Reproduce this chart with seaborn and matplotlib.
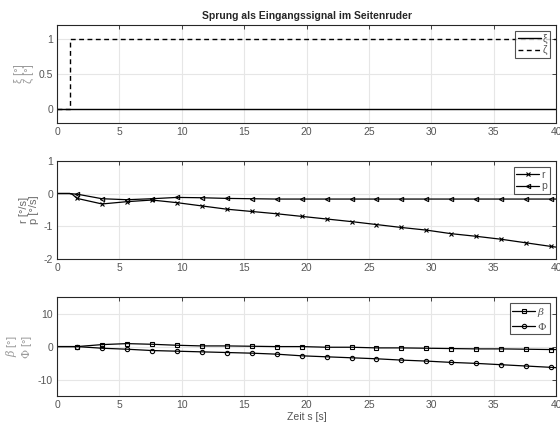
import matplotlib
matplotlib.use("Agg")
import matplotlib.pyplot as plt
from matplotlib.ticker import FormatStrFormatter
import seaborn as sns
import pandas as pd

# Rudder step input
t_in = [0.0, 1.0, 1.0, 40.0]
xi = [0.0, 0.0, 0.0, 0.0]
zeta = [0.0, 0.0, 1.0, 1.0]

# Response samples (time in s)
t = [0.0, 1.0, 1.2, 1.6, 3.6, 5.6, 7.6, 9.6, 11.6, 13.6, 15.6, 17.6, 19.6,
     21.6, 23.6, 25.6, 27.6, 29.6, 31.6, 33.6, 35.6, 37.6, 39.6, 40.0]
r = [0.0, 0.0, -0.02, -0.15, -0.32, -0.25, -0.20, -0.28, -0.38, -0.48, -0.55, -0.62,
     -0.70, -0.78, -0.86, -0.95, -1.04, -1.12, -1.23, -1.31, -1.40, -1.51, -1.62, -1.64]
p = [0.0, 0.0, -0.01, -0.02, -0.16, -0.19, -0.16, -0.12, -0.13, -0.15, -0.16, -0.17,
     -0.17, -0.17, -0.17, -0.17, -0.17, -0.17, -0.17, -0.17, -0.17, -0.17, -0.17, -0.17]
beta = [0.0, 0.0, 0.0, 0.0, 0.6, 0.9, 0.7, 0.4, 0.2, 0.2, 0.1, 0.0,
        0.0, -0.2, -0.2, -0.4, -0.4, -0.5, -0.6, -0.7, -0.7, -0.8, -0.9, -0.9]
phi = [0.0, 0.0, 0.0, 0.0, -0.5, -0.8, -1.2, -1.4, -1.6, -1.8, -2.0, -2.3,
       -2.8, -3.1, -3.4, -3.7, -4.1, -4.4, -4.8, -5.1, -5.5, -5.9, -6.3, -6.4]
mark_idx = list(range(3, 23))

sns.set_style("white")
plt.rcParams["font.family"] = ["Liberation Sans", "DejaVu Sans"]
plt.rcParams["mathtext.fontset"] = "dejavuserif"

SPINE = "#262626"
TXT = "#555555"
GRID = "#e6e6e6"

fig = plt.figure(figsize=(5.6, 4.3), dpi=100)
left, width, h = 0.102, 0.891, 0.228
ax1 = fig.add_axes([left, 0.714, width, h])
ax2 = fig.add_axes([left, 0.398, width, h])
ax3 = fig.add_axes([left, 0.079, width, 0.230])

df_in = pd.DataFrame({"t": t_in, "xi": xi, "zeta": zeta})
df = pd.DataFrame({"t": t, "r": r, "p": p, "beta": beta, "phi": phi})

sns.lineplot(data=df_in, x="t", y="xi", ax=ax1, color="black", lw=1.0,
             estimator=None, sort=False, label="ξ")
sns.lineplot(data=df_in, x="t", y="zeta", ax=ax1, color="black", lw=1.0,
             estimator=None, sort=False, label="ζ")
ax1.lines[-1].set_linestyle((0, (3.5, 2.5)))


def marked_line(ax, col, marker, label):
    sns.lineplot(data=df, x="t", y=col, ax=ax, color="black", lw=0.9,
                 estimator=None, sort=False, label=label)
    ln = ax.lines[-1]
    ln.set_linestyle("-")
    ln.set_marker(marker)
    ln.set_markevery(mark_idx)
    ln.set_markersize(3.1)
    ln.set_markerfacecolor("none")
    ln.set_markeredgecolor("black")
    ln.set_markeredgewidth(0.8)


marked_line(ax2, "r", "x", "r")
marked_line(ax2, "p", "<", "p")
marked_line(ax3, "beta", "s", r"$\beta$")
marked_line(ax3, "phi", "o", r"$\Phi$")

limits = [(-0.2, 1.2, [0, 0.5, 1]), (-2, 1, [-2, -1, 0, 1]), (-15, 15, [-10, 0, 10])]
ylabels = ["ξ [°]\nζ [°]", "r [°/s]\np [°/s]", "$\\beta$ [°]\n$\\Phi$ [°]"]
ycols = ["#9a9a9a", "#6a6a6a", "#9a9a9a"]
for ax, (lo, hi, ticks), yl, yc in zip([ax1, ax2, ax3], limits, ylabels, ycols):
    ax.set_xlim(0, 40)
    ax.set_ylim(lo, hi)
    ax.set_xticks(range(0, 41, 5))
    ax.set_yticks(ticks)
    ax.yaxis.set_major_formatter(FormatStrFormatter("%g"))
    ax.grid(True, color=GRID, lw=0.8)
    ax.set_axisbelow(True)
    for s in ax.spines.values():
        s.set_color(SPINE)
        s.set_linewidth(0.8)
        s.set_visible(True)
    ax.tick_params(direction="in", length=3, width=0.6, color=SPINE,
                   labelcolor=TXT, labelsize=7.5, top=True, right=True, pad=3)
    ax.set_xlabel("")
    ax.set_ylabel(yl, color=yc, fontsize=8, labelpad=3, linespacing=1.05)
    leg = ax.legend(loc="upper right", fontsize=7.5, frameon=True, fancybox=False,
                    handlelength=2.2, handletextpad=0.2, borderpad=0.25,
                    labelspacing=0.15, borderaxespad=0.6)
    leg.get_frame().set_edgecolor(SPINE)
    leg.get_frame().set_linewidth(0.8)
    for txt in leg.get_texts():
        txt.set_color(TXT)

ax3.set_xlabel("Zeit s [s]", color=TXT, fontsize=7.5, labelpad=1)
ax1.set_title("Sprung als Eingangssignal im Seitenruder", fontsize=7.5,
              fontweight="bold", color="#262626", pad=4)

fig.savefig("out.png", dpi=100)
